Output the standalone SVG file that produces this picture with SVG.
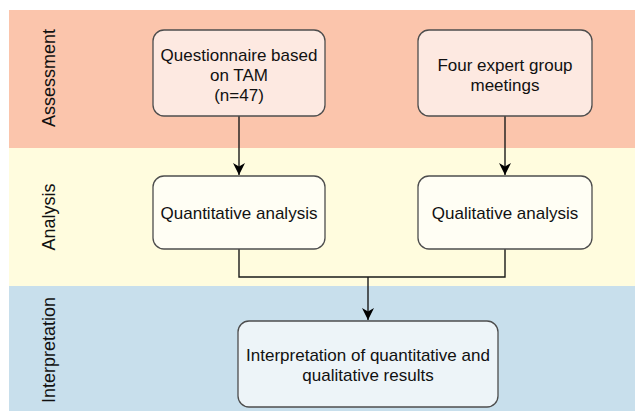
<svg xmlns="http://www.w3.org/2000/svg" width="635" height="416" viewBox="0 0 635 416">
<style>
.lane-label{font-family:"Liberation Sans",Arial,sans-serif;font-size:18px;fill:#111;text-anchor:middle}
.node-text{font-family:"Liberation Sans",Arial,sans-serif;font-size:17px;fill:#111;text-anchor:middle}
.node{stroke:#4d4d4d;stroke-width:1.3}
.conn{fill:none;stroke:#1a1a1a;stroke-width:1.4}
</style>
<defs>
<marker id="arrow" markerWidth="13" markerHeight="12" refX="12" refY="6" orient="auto" markerUnits="userSpaceOnUse" viewBox="0 0 13 12">
<path d="M0,0 L12,6 L0,12 L3.5,6 Z" fill="#000"/>
</marker>
</defs>
<rect width="635" height="416" fill="#ffffff"/>
<g id="lane-assessment">
<rect x="9" y="10" width="626" height="138" fill="#fbc5ac"/>
<text class="lane-label" transform="translate(54.5,78) rotate(-90)">Assessment</text>
</g>
<g id="lane-analysis">
<rect x="9" y="148" width="626" height="138" fill="#fffcde"/>
<text class="lane-label" transform="translate(54.5,217) rotate(-90)">Analysis</text>
</g>
<g id="lane-interpretation">
<rect x="9" y="286" width="626" height="125" fill="#c8dfec"/>
<text class="lane-label" transform="translate(54.5,350) rotate(-90)">Interpretation</text>
</g>
<g id="connectors">
<path class="conn" d="M239,116 V175" marker-end="url(#arrow)"/>
<path class="conn" d="M505,116 V175" marker-end="url(#arrow)"/>
<path class="conn" d="M239,249 V277 H505 V249"/>
<path class="conn" d="M368,277 V320" marker-end="url(#arrow)"/>
</g>
<g id="node-questionnaire">
<rect class="node" x="153" y="30" width="172" height="86" rx="11" fill="#fde9e1"/>
<text class="node-text" x="239" y="60.5">Questionnaire based</text>
<text class="node-text" x="239" y="80.5">on TAM</text>
<text class="node-text" x="239" y="100.5">(n=47)</text>
</g>
<g id="node-expert">
<rect class="node" x="418" y="30" width="174" height="86" rx="11" fill="#fde9e1"/>
<text class="node-text" x="505" y="70.5">Four expert group</text>
<text class="node-text" x="505" y="90.5">meetings</text>
</g>
<g id="node-quantitative">
<rect class="node" x="153" y="176" width="172" height="73" rx="11" fill="#fffef4"/>
<text class="node-text" x="239" y="218.5">Quantitative analysis</text>
</g>
<g id="node-qualitative">
<rect class="node" x="418" y="176" width="174" height="73" rx="11" fill="#fffef4"/>
<text class="node-text" x="505" y="218.5">Qualitative analysis</text>
</g>
<g id="node-interpretation">
<rect class="node" x="238" y="321" width="260" height="86" rx="11" fill="#edf4f8"/>
<text class="node-text" x="368" y="360.5">Interpretation of quantitative and</text>
<text class="node-text" x="368" y="380.5">qualitative results</text>
</g>
</svg>
